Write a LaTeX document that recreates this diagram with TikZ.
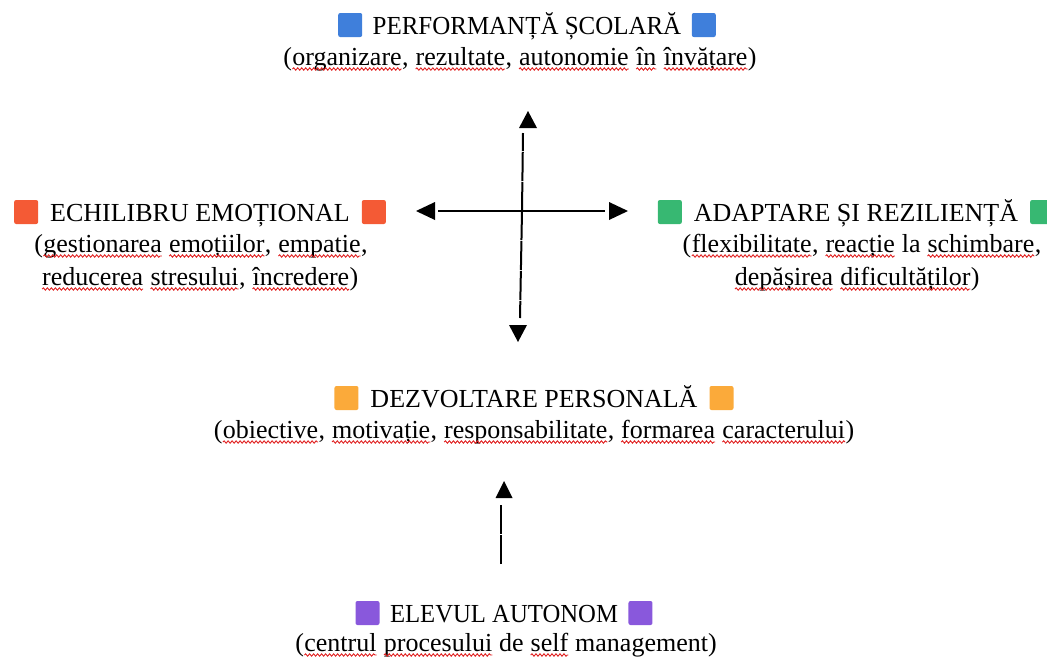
\documentclass[tikz,border=0pt]{standalone}
\usepackage{fontspec}
\usepackage{graphicx}
\setmainfont{Liberation Serif}
\usetikzlibrary{decorations.pathmorphing}
\definecolor{sqblue}{HTML}{3F7FDB}
\definecolor{sqred}{HTML}{F45A35}
\definecolor{sqgreen}{HTML}{37B872}
\definecolor{sqorange}{HTML}{FBAA3A}
\definecolor{sqpurple}{HTML}{8958DC}
\definecolor{squig}{HTML}{E02020}
\tikzset{
  lbl/.style={font=\fontsize{26}{33}\selectfont, inner sep=0pt, outer sep=0pt, anchor=base, text=black},
  wavyline/.style={draw=squig, line width=0.9pt, decorate, decoration={snake, amplitude=1.2pt, segment length=4pt}},
  axisline/.style={line width=2pt, draw=black},
  brokenline/.style={line width=2pt, draw=black, dash pattern=on 29pt off 1pt},
  tiphead/.style={fill=black},
}
\newcommand\colsq[1]{\tikz[baseline=3pt,x=1pt,y=1pt]{\fill[#1,rounded corners=2pt] (0,0) rectangle (24,24);}}
\newcommand\wv[1]{\tikz[baseline=(w.base),x=1pt,y=1pt]{\node[inner sep=0pt,outer sep=0pt,anchor=base](w) at (0,0){#1};\draw[wavyline] ([yshift=-4pt]w.base west) -- ([yshift=-4pt]w.base east);}}
\newcommand\gap{\hspace{12pt}}
\newcommand\mgap{\hspace{10.5pt}}
\begin{document}
\begin{tikzpicture}[x=1pt,y=-1pt]
\useasboundingbox (0,0) rectangle (1047,657);
% top block
\node[lbl] (perfT) at (527,34) {\colsq{sqblue}\mgap\scalebox{0.96}[1]{PERFORMANȚĂ ȘCOLARĂ}\mgap\colsq{sqblue}};
\node[lbl] (perfS) at (520,65) {(\wv{organizare}, \wv{rezultate}, \wv{autonomie} \wv{în} \wv{învățare})};
% left block
\node[lbl] (echT) at (200,221) {\colsq{sqred}\gap ECHILIBRU EMOȚIONAL\gap\colsq{sqred}};
\node[lbl] (echS1) at (201,252) {(\wv{gestionarea} \wv{emoțiilor}, \wv{empatie},};
\node[lbl] (echS2) at (200,285) {\wv{reducerea} \wv{stresului}, \wv{încredere})};
% right block
\node[lbl] (adaT) at (856,221) {\colsq{sqgreen}\gap ADAPTARE ȘI REZILIENȚĂ\gap\colsq{sqgreen}};
\node[lbl] (adaS1) at (862,252) {(\wv{flexibilitate}, \wv{reacție} la \wv{schimbare},};
\node[lbl] (adaS2) at (857,285) {\wv{depășirea} \wv{dificultăților})};
% middle block
\node[lbl] (dezT) at (534,407) {\colsq{sqorange}\gap DEZVOLTARE PERSONALĂ\gap\colsq{sqorange}};
\node[lbl] (dezS) at (534,438) {(\wv{obiective}, \wv{motivație}, \wv{responsabilitate}, \wv{formarea} \wv{caracterului})};
% bottom block
\node[lbl] (eleT) at (504,622) {\colsq{sqpurple}\mgap\scalebox{0.95}[1]{ELEVUL AUTONOM}\mgap\colsq{sqpurple}};
\node[lbl] (eleS) at (506,651) {(\wv{centrul} \wv{procesului} de \wv{self} management)};
% cross
\coordinate (ctr) at (522,211);
\coordinate (upEnd) at (523,133);
\coordinate (downEnd) at (520,318);
\coordinate (leftEnd) at (438,211);
\coordinate (rightEnd) at (605,211);
\coordinate (upTip) at (528,111);
\coordinate (downTip) at (518,342);
\coordinate (leftTip) at (416,211);
\coordinate (rightTip) at (628,211);
\draw[brokenline] (ctr) -- (upEnd);
\draw[brokenline] (ctr) -- (downEnd);
\draw[axisline] (leftEnd) -- (rightEnd);
\fill[tiphead] (upTip) -- ++(-9,17) -- ++(18,0) -- cycle;
\fill[tiphead] (downTip) -- ++(-9,-17) -- ++(18,0) -- cycle;
\fill[tiphead] (leftTip) -- ++(19,-9) -- ++(0,18) -- cycle;
\fill[tiphead] (rightTip) -- ++(-19,-9) -- ++(0,18) -- cycle;
% bottom arrow
\coordinate (botStart) at (501,564);
\coordinate (botEnd) at (501,505);
\coordinate (botTip) at (504,481);
\draw[brokenline] (botStart) -- (botEnd);
\fill[tiphead] (botTip) -- ++(-8.5,17) -- ++(17,0) -- cycle;
\end{tikzpicture}
\end{document}
